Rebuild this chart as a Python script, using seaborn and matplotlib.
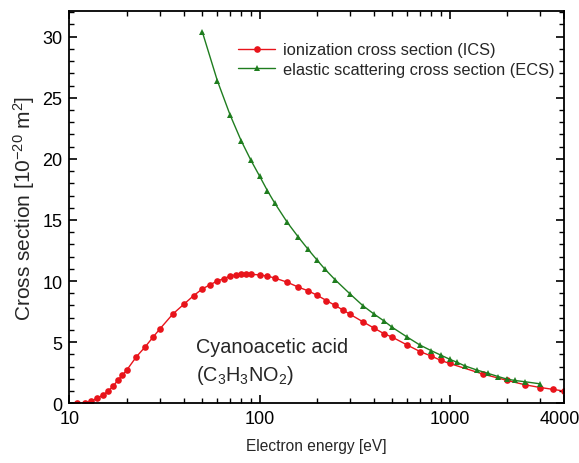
import numpy as np
import pandas as pd
import seaborn as sns
import matplotlib.pyplot as plt
from matplotlib.ticker import FixedLocator, MultipleLocator, NullFormatter
from matplotlib.transforms import ScaledTranslation

# Ionization cross section (ICS)
ics_energy = [11, 12, 13, 14, 15, 16, 17, 18, 19, 20, 22.5, 25, 27.5, 30, 35, 40, 45, 50,
              55, 60, 65, 70, 75, 80, 85, 90, 100, 110, 120, 140, 160, 180, 200, 225, 250,
              275, 300, 350, 400, 450, 500, 600, 700, 800, 900, 1000, 1500, 2000, 2500,
              3000, 3500, 4000]
ics_value = [0.0, 0.02, 0.16, 0.4, 0.66, 1.0, 1.4, 1.9, 2.3, 2.7, 3.8, 4.6, 5.4, 6.1, 7.3,
             8.1, 8.8, 9.35, 9.7, 10.0, 10.2, 10.4, 10.5, 10.55, 10.57, 10.55, 10.5, 10.4,
             10.25, 9.9, 9.5, 9.2, 8.85, 8.4, 8.0, 7.62, 7.27, 6.66, 6.15, 5.7, 5.4, 4.75,
             4.22, 3.86, 3.5, 3.25, 2.38, 1.87, 1.5, 1.28, 1.13, 0.99]

# Elastic scattering cross section (ECS)
ecs_energy = [50, 60, 70, 80, 90, 100, 110, 120, 140, 160, 180, 200, 220, 250, 300, 350,
              400, 450, 500, 600, 700, 800, 900, 1000, 1100, 1200, 1400, 1600, 1800, 2000,
              2200, 2500, 3000]
ecs_value = [30.4, 26.4, 23.6, 21.5, 19.9, 18.6, 17.4, 16.4, 14.8, 13.6, 12.6, 11.75, 11.0,
             10.1, 8.93, 7.98, 7.3, 6.75, 6.2, 5.4, 4.75, 4.3, 3.93, 3.6, 3.33, 3.06, 2.7,
             2.43, 2.18, 1.97, 1.86, 1.75, 1.58]

x_ticks = [10, 100, 1000, 4000]
x_ticklabels = ['10', '100', '1000', '4000']

sns.set_theme(style="ticks")
plt.rcParams['font.family'] = ['Liberation Sans', 'DejaVu Sans']
plt.rcParams['mathtext.default'] = 'regular'

fig = plt.figure(figsize=(5.79, 4.64), dpi=100)
ax = fig.add_axes([0.120, 0.129, 0.854, 0.845])

df_ics = pd.DataFrame({'E': ics_energy, 'sigma': ics_value})
df_ecs = pd.DataFrame({'E': ecs_energy, 'sigma': ecs_value})

sns.lineplot(data=df_ics, x='E', y='sigma', ax=ax, color='#e8141b', marker='o',
             markersize=4.8, markeredgewidth=0, linewidth=1.0,
             label='ionization cross section (ICS)')
sns.lineplot(data=df_ecs, x='E', y='sigma', ax=ax, color='#1f7d1f', marker='^',
             markersize=5, markeredgewidth=0, linewidth=1.0,
             label='elastic scattering cross section (ECS)')

ax.set_xscale('log')
ax.set_xlim(10, 4000)
ax.set_ylim(0, 32.1)

ax.xaxis.set_major_locator(FixedLocator(x_ticks))
ax.set_xticklabels(x_ticklabels)
minor = [m * 10 ** k for k in (1, 2, 3) for m in range(2, 10) if m * 10 ** k < 4000]
ax.xaxis.set_minor_locator(FixedLocator(minor))
ax.xaxis.set_minor_formatter(NullFormatter())
ax.yaxis.set_major_locator(MultipleLocator(5))
ax.yaxis.set_minor_locator(MultipleLocator(1))

ax.tick_params(which='both', direction='in', top=True, right=True, colors='black')
ax.tick_params(which='major', length=6, width=1.2, labelsize=13, pad=5)
ax.tick_params(which='minor', length=3.5, width=1.0)
for s in ax.spines.values():
    s.set_linewidth(1.3)
    s.set_color('black')

# keep the last tick label inside the picture
last = ax.get_xticklabels()[-1]
last.set_transform(last.get_transform() + ScaledTranslation(-0.045, 0, fig.dpi_scale_trans))

ax.set_xlabel('Electron energy [eV]', fontsize=11.2, labelpad=8)
ax.set_ylabel('Cross section [10$^{-20}$ m$^{2}$]', fontsize=15, labelpad=4)

ax.text(0.256, 0.145, 'Cyanoacetic acid', transform=ax.transAxes, fontsize=14.3,
        va='center', ha='left')
ax.text(0.256, 0.072, '(C$_3$H$_3$NO$_2$)', transform=ax.transAxes, fontsize=14.3,
        va='center', ha='left')

ax.legend(loc='upper right', bbox_to_anchor=(1.0, 0.945), frameon=False, fontsize=11.8,
          handlelength=2.25, handletextpad=0.45, labelspacing=0.25, borderaxespad=0.2)

plt.savefig('out.png', dpi=100)
